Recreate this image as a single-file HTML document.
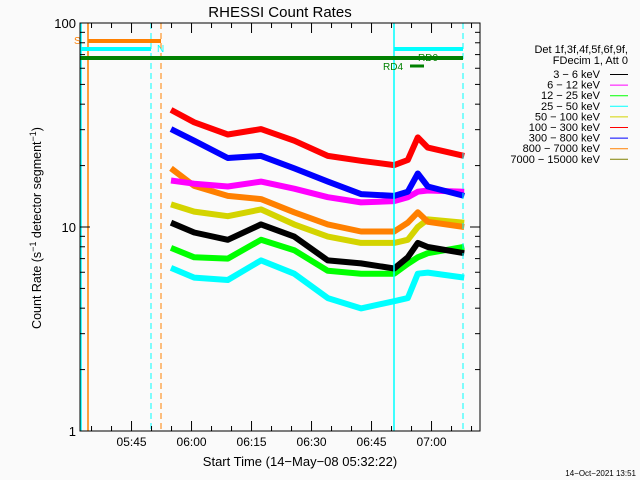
<!DOCTYPE html>
<html><head><meta charset="utf-8">
<style>
html,body{margin:0;padding:0;background:#fafafa;}
svg{display:block;font-family:"Liberation Sans","DejaVu Sans",sans-serif;}
</style></head>
<body>
<svg id="chart" width="640" height="480" viewBox="0 0 640 480">
<rect x="0" y="0" width="640" height="480" fill="#fafafa"/>
<text x="280" y="17" font-size="15" text-anchor="middle" fill="#000">RHESSI Count Rates</text>
<g id="series"></g>
<g id="overlays"></g>
<g id="axes"></g>
<text transform="translate(41,228) rotate(-90)" font-size="12.5" text-anchor="middle" fill="#000">Count Rate (s<tspan font-size="9" dy="-5">−1</tspan><tspan dy="5"> detector segment</tspan><tspan font-size="9" dy="-5">−1</tspan><tspan dy="5">)</tspan></text>
<text x="300" y="466" font-size="13" text-anchor="middle" fill="#000">Start Time (14−May−08 05:32:22)</text>
<g id="legend"></g>
<text x="636" y="476" font-size="8" text-anchor="end" fill="#000">14−Oct−2021 13:51</text>
</svg>
<script>
// minutes after 05:32:22
const times = [22.5, 28.3, 36.7, 45, 53.3, 61.7, 70, 78.3, 81.7, 84.2, 86.7, 95.8];
const bandLabels = ["3 − 6 keV","6 − 12 keV","12 − 25 keV","25 − 50 keV","50 − 100 keV","100 − 300 keV","300 − 800 keV","800 − 7000 keV","7000 − 15000 keV"];
const bandColors = ["#000000","#ff00ff","#00ff00","#00ffff","#d4d400","#ff0000","#0000ff","#ff8000","#808000"];
const rate3to6 = [10.5, 9.4, 8.65, 10.3, 8.97, 6.86, 6.63, 6.26, 7.1, 8.36, 7.98, 7.44];
const rate6to12 = [16.9, 16.3, 15.8, 16.7, 15.4, 14.0, 13.2, 13.4, 14.0, 14.9, 15.1, 14.9];
const rate12to25 = [7.9, 7.1, 7.0, 8.65, 7.7, 6.1, 5.9, 5.9, 6.6, 7.1, 7.44, 8.0];
const rate25to50 = [6.3, 5.65, 5.5, 6.86, 5.9, 4.48, 3.99, 4.33, 4.48, 5.9, 5.98, 5.65];
const rate50to100 = [12.9, 11.9, 11.3, 12.2, 10.3, 8.97, 8.36, 8.36, 8.65, 10.0, 10.9, 10.5];
const rate100to300 = [37.5, 32.6, 28.4, 30.2, 26.5, 22.3, 21.1, 20.1, 21.3, 27.5, 24.5, 22.3];
const rate300to800 = [30.2, 26.5, 21.8, 22.3, 19.4, 16.7, 14.5, 14.2, 14.9, 18.3, 15.8, 14.2];
const rate800to7000 = [19.4, 15.9, 14.2, 13.7, 11.8, 10.3, 9.5, 9.5, 10.5, 11.8, 10.6, 10.0];
const xTickLabels = ["05:45","06:00","06:15","06:30","06:45","07:00"];
const xTickMinutes = [12.633, 27.633, 42.633, 57.633, 72.633, 87.633];
const yTickLabels = ["1","10","100"];
const yTickValues = [1, 10, 100];

const NS = "http://www.w3.org/2000/svg";
const X0 = 80, X1 = 480, Y0 = 23, Y1 = 431;
function xs(t){ return X0 + 1 + t*4; }
function ys(v){ return Y1 - Math.log10(v)*(Y1-Y0)/2; }
function mk(tag, attrs, parent){ const e=document.createElementNS(NS,tag); for(const k in attrs) e.setAttribute(k,attrs[k]); parent.appendChild(e); return e; }

const sg = document.getElementById("series");
const drawOrder = [[3,rate25to50,"series-25-50-kev"],[2,rate12to25,"series-12-25-kev"],[0,rate3to6,"series-3-6-kev"],[4,rate50to100,"series-50-100-kev"],[7,rate800to7000,"series-800-7000-kev"],[1,rate6to12,"series-6-12-kev"],[6,rate300to800,"series-300-800-kev"],[5,rate100to300,"series-100-300-kev"]];
drawOrder.forEach(([ci,arr,name])=>{
  const d = arr.map((v,i)=>(i?"L":"M")+xs(times[i]).toFixed(1)+","+ys(v).toFixed(1)).join(" ");
  const p = mk("path",{d:d,fill:"none",stroke:bandColors[ci],"stroke-width":6,"stroke-linejoin":"round"},sg);
  
  
});

const og = document.getElementById("overlays");
function line(x1,y1,x2,y2,c,w,dash,name){
  const l = mk("line",{x1:x1,y1:y1,x2:x2,y2:y2,stroke:c,"stroke-width":w},og);
  if(dash) l.setAttribute("stroke-dasharray",dash);
  
  
}
line(81,Y0,81,Y1,"#00ffff",1.5,null,"cyan-marker-start");
line(394,Y0,394,Y1,"#00ffff",1.5,null,"cyan-marker-night");
line(151,Y0,151,Y1,"#00ffff",1,"6,4","cyan-dashed-marker-1");
line(463,Y0,463,Y1,"#00ffff",1,"6,4","cyan-dashed-marker-2");
line(88,Y0,88,Y1,"#ff8000",1.5,null,"orange-marker-saa");
line(161,Y0,161,Y1,"#ff8000",1,"6,4","orange-dashed-marker");
line(88,41,161,41,"#ff8000",4,null,"saa-bar");
line(80,49,151,49,"#00ffff",4,null,"night-bar-1");
line(394,49,463,49,"#00ffff",4,null,"night-bar-2");
line(80,58,463,58,"#008000",4,null,"decimation-bar");
line(410,66,424,66,"#008000",3,null,"rd4-bar");
function txt(x,y,s,c,size,name,anchor){
  const t = mk("text",{x:x,y:y,"font-size":size,fill:c,"text-anchor":anchor||"start"},og);
  t.textContent = s;
  
  
}
txt(74,44,"S","#ff8000",10,"saa-label");
txt(157,52,"N","#00ffff",10,"night-label");
txt(418,61,"RD0","#008000",10,"rd0-label");
txt(383,70,"RD4","#008000",10,"rd4-label");

const ag = document.getElementById("axes");
const frame = mk("rect",{x:X0,y:Y0,width:X1-X0,height:Y1-Y0,fill:"none",stroke:"#000","stroke-width":1},ag);


for(let m=2.633; m*4+81<X1; m+=5){
  const x = xs(m); const major = xTickMinutes.some(v=>Math.abs(v-m)<0.01);
  const len = major?10:5;
  const a = mk("line",{x1:x,y1:Y1,x2:x,y2:Y1-len,stroke:"#000"},ag);
  
  
  const b = mk("line",{x1:x,y1:Y0,x2:x,y2:Y0+len,stroke:"#000"},ag);
  
  
}
xTickLabels.forEach((s,i)=>{
  const t = mk("text",{x:xs(xTickMinutes[i]),y:446,"font-size":12,"text-anchor":"middle",fill:"#000"},ag);
  t.textContent = s;
  
  
});
for(let d=0; d<2; d++){
  for(let k=1;k<=10;k++){
    const v = k*Math.pow(10,d); const y = ys(v);
    const len = (k===1||k===10)?10:5;
    const a = mk("line",{x1:X0,y1:y,x2:X0+len,y2:y,stroke:"#000"},ag);
    
    
    const b = mk("line",{x1:X1,y1:y,x2:X1-len,y2:y,stroke:"#000"},ag);
    
    
  }
}
yTickLabels.forEach((s,i)=>{
  const t = mk("text",{x:76,y:ys(yTickValues[i])+5,"font-size":13,"text-anchor":"end",fill:"#000"},ag);
  t.textContent = s;
  
  
});

const lg = document.getElementById("legend");
function ltxt(x,y,s,name){
  const t = mk("text",{x:x,y:y,"font-size":11,"text-anchor":"end",fill:"#000"},lg);
  t.textContent = s;
  
  
}
ltxt(628,53,"Det 1f,3f,4f,5f,6f,9f,","legend-detectors");
ltxt(628,64,"FDecim 1, Att 0","legend-decimation");
bandLabels.forEach((s,i)=>{
  const y = 78 + i*10.6;
  ltxt(600,y,s,"legend-label");
  const l = mk("line",{x1:610,y1:y-3.5,x2:628,y2:y-3.5,stroke:bandColors[i],"stroke-width":1},lg);
  
  
});
</script>
</body></html>
